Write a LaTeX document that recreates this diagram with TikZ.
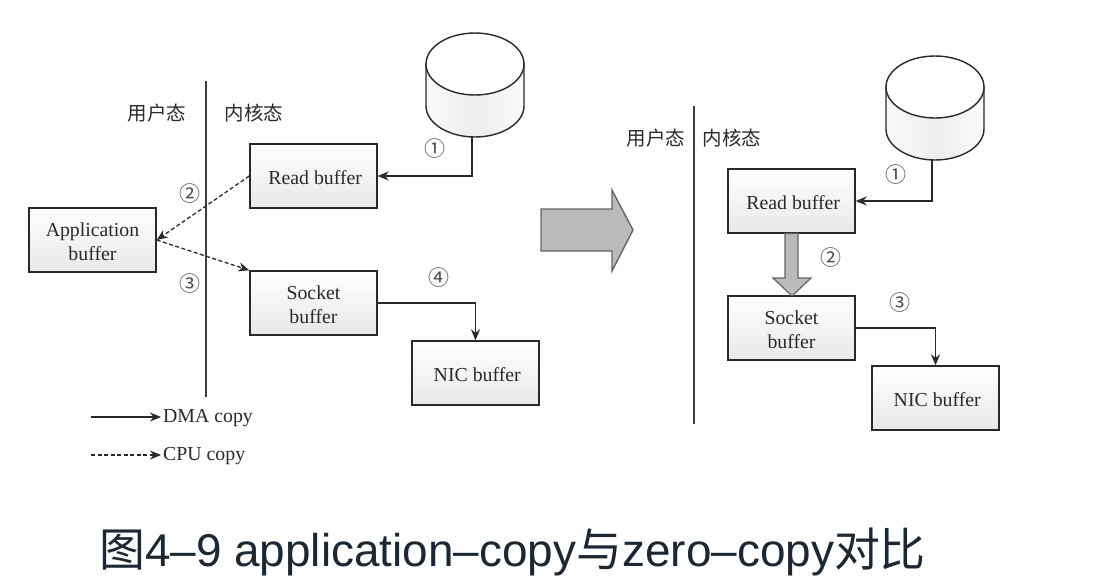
\documentclass[tikz,border=0pt]{standalone}
\usepackage{fontspec}
\setmainfont{Liberation Serif}
\newfontfamily\cjk{Noto Sans CJK SC}
\newfontfamily\latcap{Liberation Sans}
\usetikzlibrary{arrows.meta,calc}
\definecolor{ink}{gray}{0.16}
\definecolor{capink}{HTML}{1C2733}
\newcommand{\lb}[1]{\raisebox{-4.2pt}[14pt][5pt]{#1}}
\newcommand{\lbs}[1]{\hspace*{3.5pt}\lb{#1}}
\tikzset{
  x=1pt,y=-1pt,
  every node/.style={text=ink},
  buf/.style={draw=ink,line width=1.4pt,top color=white,bottom color=black!9,minimum width=127pt,minimum height=64pt,inner sep=0pt,align=center,font=\fontsize{19.8}{24.5}\selectfont},
  solidarrow/.style={draw=ink,line width=1.4pt,-{Stealth[length=11pt,width=9pt]}},
  cpuarrow/.style={draw=ink,line width=1.3pt,dash pattern=on 4pt off 2.5pt,-{Stealth[length=11pt,width=9pt]}},
  divider/.style={draw=ink!90,line width=1.5pt},
  modelabel/.style={font=\cjk\fontsize{19.5}{20}\selectfont,inner sep=0pt},
  legendlabel/.style={font=\fontsize{19.8}{20}\selectfont,inner sep=0pt,anchor=west},
  num/.style={font=\cjk\fontsize{21}{21}\selectfont,inner sep=0pt,text=ink!85},
  bigarrow/.style={draw=black!60,line width=1.4pt,fill=black!27,line join=miter},
  drum/.pic={
    \draw[draw=ink,line width=1.4pt,left color=black!2,right color=black!2,middle color=black!7]
      (-49,0) -- (-49,42) .. controls (-49,59) and (-27,73) .. (0,73)
      .. controls (27,73) and (49,59) .. (49,42) -- (49,0) -- cycle;
    \draw[draw=ink,line width=1.4pt,fill=white] (0,0) ellipse [x radius=49,y radius=31];
    \coordinate (-bot) at (-3,73);
  }
}
\begin{document}
\begin{tikzpicture}
\useasboundingbox (0,0) rectangle (1098,582);
% left
\draw[divider] (206,81) -- (206,397);
\pic (diskA) at (475,64) {drum};
\node[buf] (readA) at (313.5,176) {\lbs{Read buffer}};
\node[buf] (appA) at (92.5,240) {\lb{Application}\\\lb{buffer}};
\node[buf] (sockA) at (313.5,303) {\lb{Socket}\\\lb{buffer}};
\node[buf] (nicA) at (475.5,373) {\lbs{NIC buffer}};
\draw[solidarrow] (diskA-bot) |- (readA.east);
\draw[cpuarrow] (readA.west) -- (appA.east);
\draw[cpuarrow] (appA.east) -- (sockA.north west);
\draw[solidarrow] (sockA.east) -| (nicA.north);
\node[modelabel] (userA) at (157,113) {用户态};
\node[modelabel] (kernA) at (254,113) {内核态};
\node[num] (a1) at (435,149) {①};
\node[num] (a2) at (190,194) {②};
\node[num] (a3) at (190,284) {③};
\node[num] (a4) at (439,278) {④};
% legend
\coordinate (l1s) at (91,417);
\coordinate (l1e) at (161,417);
\coordinate (l2s) at (91,455);
\coordinate (l2e) at (161,455);
\draw[solidarrow] (l1s) -- (l1e);
\draw[cpuarrow] (l2s) -- (l2e);
\node[legendlabel] (dma) at (163,418.5) {DMA copy};
\node[legendlabel] (cpu) at (163,456.5) {CPU copy};
% big arrow
\draw[bigarrow] (541,209) -- (612,209) -- (612,190) -- (633,230) -- (612,271) -- (612,251) -- (541,251) -- cycle;
% right
\draw[divider] (694,106) -- (694,424);
\pic (diskB) at (935,87) {drum};
\node[buf] (readB) at (791.5,201) {\lbs{Read buffer}};
\node[buf] (sockB) at (791.5,328) {\lb{Socket}\\\lb{buffer}};
\node[buf] (nicB) at (935.5,398) {\lbs{NIC buffer}};
\draw[solidarrow] (diskB-bot) |- (readB.east);
\draw[solidarrow] (sockB.east) -| (nicB.north);
\draw[bigarrow,line width=1.2pt] (785,233.5) -- (798,233.5) -- (798,278) -- (811,278) -- (792,296) -- (773,278) -- (785,278) -- cycle;
\node[modelabel] (userB) at (656,138) {用户态};
\node[modelabel] (kernB) at (732,138) {内核态};
\node[num] (b1) at (896,175) {①};
\node[num] (b2) at (831,258) {②};
\node[num] (b3) at (900,303) {③};
% caption
\node[inner sep=0pt,anchor=base west,text=capink,font=\latcap\fontsize{45.9}{46}\selectfont] (cap) at (99,566) {{\cjk 图}4–9 application–copy{\cjk 与}zero–copy{\cjk 对比}};
\end{tikzpicture}
\end{document}
